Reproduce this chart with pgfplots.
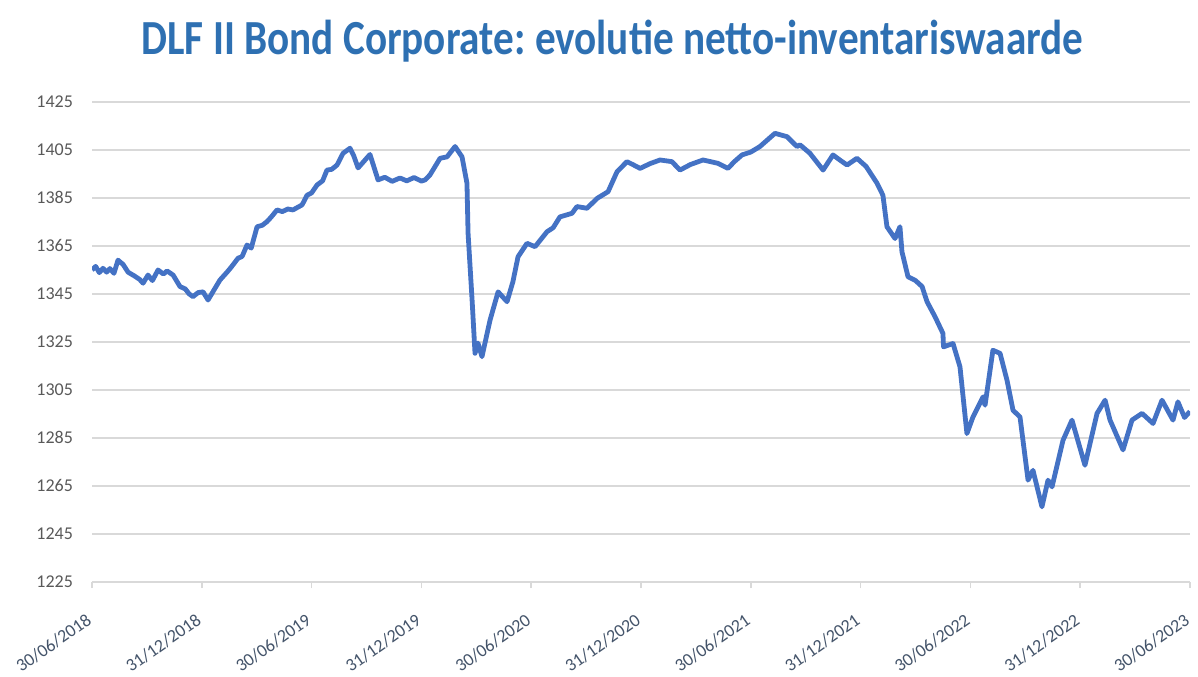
\documentclass[border=0pt]{standalone}
\usepackage{fontspec}
\setmainfont{Carlito}
\usepackage{pgfplots}
\pgfplotsset{compat=1.18}
\definecolor{linecol}{RGB}{68,114,196}
\definecolor{titlecol}{RGB}{46,112,178}
\definecolor{gridgray}{RGB}{217,217,217}
\definecolor{ylab}{RGB}{89,89,89}
\definecolor{xlab}{RGB}{68,84,106}
\frenchspacing
\begin{document}
\begin{tikzpicture}
\useasboundingbox (-46pt,-47pt) rectangle (553pt,291pt);
\begin{axis}[
  at={(0,0)}, anchor=south west,
  scale only axis, width=549pt, height=240.2pt,
  xmin=0, xmax=60, ymin=1225, ymax=1425,
  ytick={1225,1245,...,1425},
  xtick={0,6,...,60},
  xticklabels={30/06/2018,31/12/2018,30/06/2019,31/12/2019,30/06/2020,31/12/2020,30/06/2021,31/12/2021,30/06/2022,31/12/2022,30/06/2023},
  /pgf/number format/assume math mode=true,
  /pgf/number format/1000 sep={},
  axis x line*=bottom, axis y line*=left,
  x axis line style={draw=gridgray, line width=0.9pt, -},
  y axis line style={draw=none},
  ytick style={draw=none},
  xtick style={draw=gridgray, line width=0.8pt},
  major tick length=3pt, tick align=outside,
  ymajorgrids, grid style={draw=gridgray, line width=0.9pt},
  yticklabel style={font=\fontsize{9}{10}\selectfont, text=ylab, xshift=-3pt},
  xticklabel style={font=\fontsize{9}{10}\selectfont, text=xlab, yshift=-13pt, xshift=1.5pt, rotate=35, anchor=east},
]
\addplot[linecol, line width=2.4pt, line join=round] coordinates {
(0.00,1354.9) (0.2,1356.4) (0.4,1353.8) (0.6,1355.6) (0.8,1354.0) (0.98,1355.5) (1.2,1353.5) (1.42,1359) (1.7,1357.2) (1.97,1354)
(2.3,1352.5) (2.6,1351.0) (2.79,1349.4) (3.06,1352.8) (3.3,1350.5) (3.61,1354.9) (3.9,1353.2) (4.1,1354.5) (4.43,1352.8) (4.81,1348)
(5.1,1347) (5.3,1345.0) (5.52,1343.8) (5.8,1345.5) (6.07,1345.8) (6.34,1342.4) (6.7,1347) (6.99,1350.7) (7.38,1354)
(7.6,1356) (7.98,1359.8) (8.2,1360.5) (8.47,1365.3) (8.7,1364) (9.02,1372.9) (9.3,1373.5) (9.56,1375)
(9.8,1377) (10.11,1379.9) (10.4,1379.2) (10.7,1380.3) (10.98,1379.9) (11.48,1382) (11.75,1386) (12.0,1387)
(12.30,1390.3) (12.6,1392) (12.84,1396.5) (13.1,1396.8) (13.39,1398.6) (13.72,1403.5) (14.10,1405.6) (14.3,1402.5)
(14.54,1397.4) (14.9,1400.5) (15.19,1403) (15.63,1392.4) (16.0,1393.5) (16.4,1391.8) (16.83,1393.2) (17.2,1392)
(17.6,1393.4) (18.0,1391.9) (18.20,1392.4) (18.47,1394.5) (19.02,1401.4) (19.40,1402) (19.84,1406.3) (20.22,1402)
(20.49,1391) (20.55,1370.2) (20.77,1342.4) (20.93,1320.2) (21.09,1324.5) (21.31,1318.8) (21.75,1334)
(22.19,1345.8) (22.68,1341.7) (23.0,1350) (23.28,1360.4) (23.77,1366) (24.21,1364.6) (24.86,1370.8)
(25.2,1372.5) (25.57,1377) (26.23,1378.5) (26.50,1381.3) (27.05,1380.6) (27.60,1384.7) (28.20,1387.5)
(28.69,1395.8) (29.23,1400) (29.6,1398.6) (29.95,1397.2) (30.5,1399.2) (31.04,1400.7) (31.69,1400) (32.13,1396.5)
(32.7,1398.8) (33.39,1400.7) (34.21,1399.3) (34.75,1397.2) (35.1,1400) (35.52,1402.8) (36.0,1404) (36.50,1406.3)
(37.32,1411.8) (37.98,1410.4) (38.52,1406.3) (38.69,1407) (39.23,1403.5) (39.95,1396.5) (40.49,1402.8)
(40.9,1400.5) (41.26,1398.6) (41.80,1401.4) (42.3,1398) (42.90,1391) (43.22,1386) (43.44,1372.9) (43.88,1368)
(44.15,1372.9) (44.26,1362.5) (44.59,1352.1) (45.0,1350.5) (45.36,1348) (45.63,1341.7) (46.07,1335.4)
(46.50,1328.5) (46.53,1322.9) (47.05,1324.3) (47.43,1314.6) (47.81,1286.8) (48.14,1293.7) (48.69,1302.1)
(48.80,1298.6) (49.23,1321.5) (49.62,1320.2) (50.0,1309) (50.33,1296.5) (50.71,1293.7) (51.15,1267.4)
(51.42,1271.5) (51.91,1256.3) (52.24,1267.4) (52.46,1264.6) (53.06,1284) (53.55,1292.4) (54.26,1273.6)
(54.92,1295.2) (55.36,1300.7) (55.63,1292.4) (56.34,1280) (56.83,1292.4) (57.38,1295.2) (57.98,1291)
(58.47,1300.7) (59.07,1292.4) (59.34,1300) (59.7,1293.5) (60.0,1296)
};
\end{axis}
\node[anchor=base, yscale=1.19, text=titlecol, font=\fontsize{20.6}{24}\selectfont\bfseries, inner sep=0pt]
  at (260.25pt,263.85pt) {DLF II Bond Corporate: evolutie netto-inventariswaarde};
\end{tikzpicture}
\end{document}
